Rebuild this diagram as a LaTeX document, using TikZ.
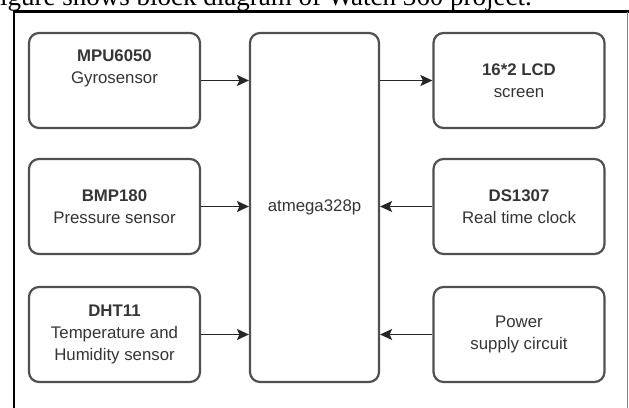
\documentclass[tikz,border=0pt]{standalone}
\usepackage{fontspec}
\setmainfont{Liberation Sans}
\newfontfamily\capfont{Liberation Serif}
\usetikzlibrary{arrows.meta}
\definecolor{boxline}{HTML}{505050}
\definecolor{txt}{HTML}{353535}
\begin{document}
\begin{tikzpicture}[x=1pt,y=-1pt,
  blk/.style={draw=boxline,line width=2.2pt,rounded corners=10pt,
    minimum width=171pt,minimum height=95pt,align=center,text=txt,
    font=\fontsize{16.8}{22}\selectfont,inner sep=0pt},
  conn/.style={draw=black!85,line width=1.8pt,-{Stealth[length=12pt,width=11pt,inset=2.5pt]}}]
\useasboundingbox (0,0) rectangle (629,407);
\clip (0,0) rectangle (629,407);
\fill[white] (0,0) rectangle (629,407);
% caption line (cut off at the top, as in the reference)
\node[anchor=base west,inner sep=0pt,font=\capfont\fontsize{27}{30}\selectfont] (cap) at (-15,5.5) {Figure shows block diagram of Watch 360 project.};
% frame
\draw[black,line width=2.2pt] (14,420) -- (14,11.5) -- (640,11.5);
\draw[gray,line width=1pt] (627.5,11.5) -- (627.5,420);
% blocks
\node[blk] (mpu) at (114.5,80.5) {\textbf{MPU6050}\\Gyrosensor\\\strut};
\node[blk] (bmp) at (114.5,206.5) {\textbf{BMP180}\\Pressure sensor};
\node[blk] (dht) at (114.5,334.5) {\textbf{DHT11}\\Temperature and\\Humidity sensor};
\node[blk,minimum width=129pt,minimum height=349pt] (mcu) at (314.5,207.5) {atmega328p};
\node[blk] (lcd) at (519,80.5) {\textbf{16*2 LCD}\\screen};
\node[blk] (rtc) at (519,206.5) {\textbf{DS1307}\\Real time clock};
\node[blk] (pwr) at (519,334.5) {Power\\supply circuit};
% connectors
\draw[conn] (mpu.east) -- (mpu.east -| mcu.west);
\draw[conn] (bmp.east) -- (bmp.east -| mcu.west);
\draw[conn] (dht.east) -- (dht.east -| mcu.west);
\draw[conn] (lcd.west -| mcu.east) -- (lcd.west);
\draw[conn] (rtc.west) -- (rtc.west -| mcu.east);
\draw[conn] (pwr.west) -- (pwr.west -| mcu.east);
\end{tikzpicture}
\end{document}
